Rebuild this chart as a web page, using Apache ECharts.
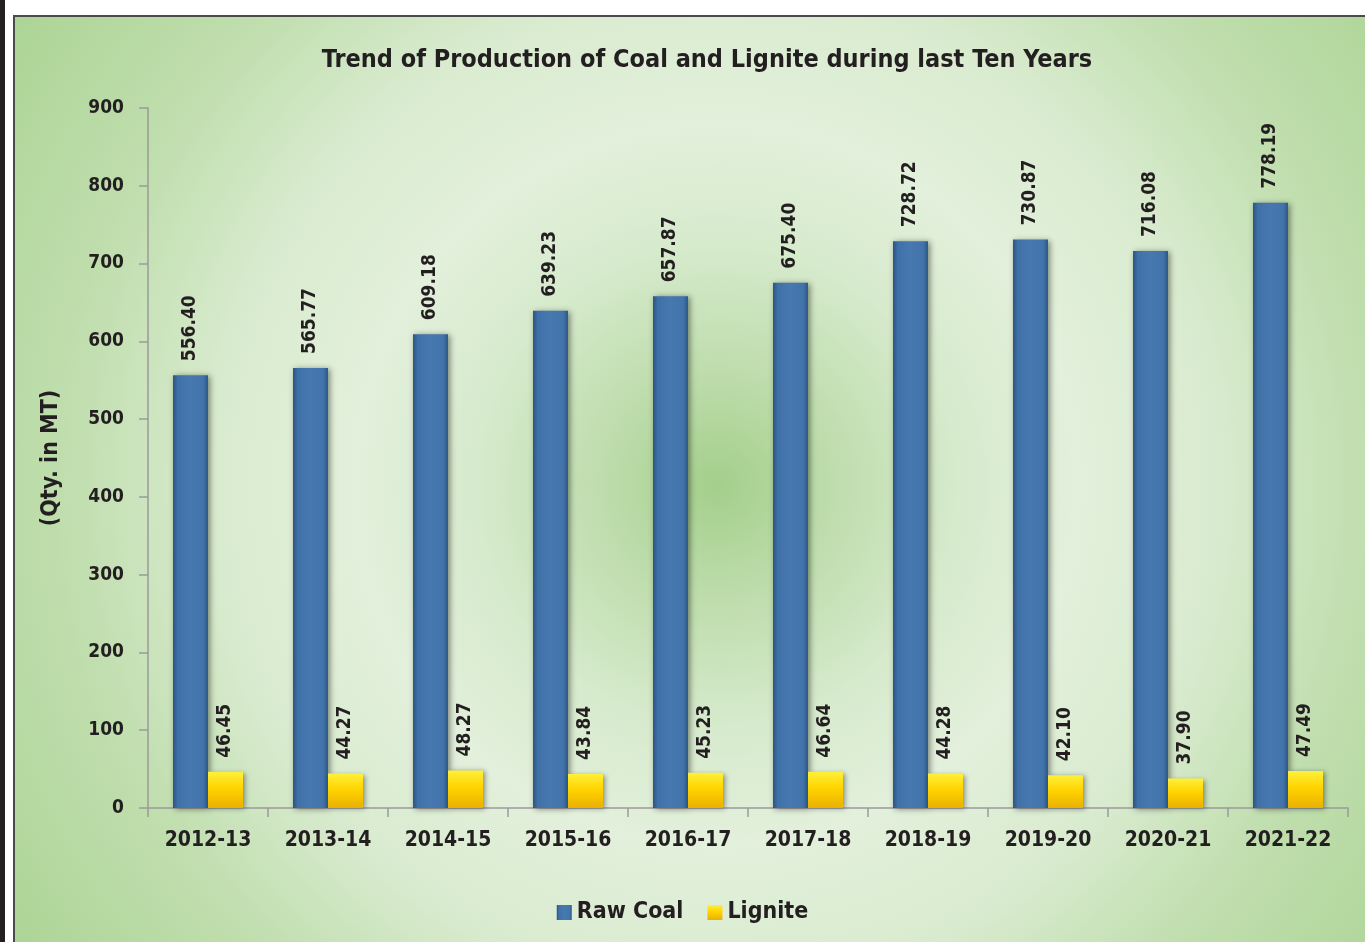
<!DOCTYPE html>
<html>
<head>
<meta charset="utf-8">
<script src="https://cdn.jsdelivr.net/npm/echarts@6/dist/echarts.min.js"></script>
<style>
  html, body { margin: 0; padding: 0; background: #fff; overflow: hidden; }
  #strip { position: absolute; left: 0; top: 0; width: 5px; height: 942px; background: #231f20; }
  #panel {
    position: absolute; left: 13px; top: 15px; width: 1400px; height: 1000px;
    border-top: 2px solid #4a4a4a; border-left: 2px solid #4a4a4a;
    background: radial-gradient(circle at 702px 468px, #a4cf8b 0px, #bddcab 110px, #d6eacc 240px, #e3f0dc 360px, #d9ebcf 500px, #c0deae 650px, #acd495 850px);
  }
  #chart { position: absolute; left: 0; top: 0; width: 1365px; height: 942px; }
</style>
</head>
<body>
<div id="strip"></div>
<div id="panel"></div>
<div id="chart"></div>
<script>
const years = ["2012-13", "2013-14", "2014-15", "2015-16", "2016-17", "2017-18", "2018-19", "2019-20", "2020-21", "2021-22"];
const rawCoal = [556.40, 565.77, 609.18, 639.23, 657.87, 675.40, 728.72, 730.87, 716.08, 778.19];
const lignite = [46.45, 44.27, 48.27, 43.84, 45.23, 46.64, 44.28, 42.10, 37.90, 47.49];

const font = '"DejaVu Sans Condensed", "Liberation Sans Narrow", sans-serif';
const textColor = "#231f20";

const chart = echarts.init(document.getElementById("chart"));

const labelStyle = {
  show: true,
  position: "top",
  rotate: 90,
  align: "left",
  verticalAlign: "middle",
  distance: 14,
  fontFamily: font,
  fontWeight: "bold",
  fontSize: 19,
  color: textColor,
  formatter: (p) => Number(p.value).toFixed(2),
};

chart.setOption({
  backgroundColor: "transparent",
  title: {
    text: "Trend of Production of Coal and Lignite during last Ten Years",
    left: 702,
    textAlign: "center",
    top: 43,
    textStyle: { fontFamily: font, fontWeight: "bold", fontSize: 25, color: textColor },
  },
  legend: {
    bottom: 13,
    left: "center",
    icon: "rect",
    itemWidth: 15,
    itemHeight: 15,
    itemGap: 24,
    itemStyle: { borderWidth: 0 },
    textStyle: { fontFamily: font, fontWeight: "bold", fontSize: 23, color: textColor },
    data: ["Raw Coal", "Lignite"],
  },
  grid: { left: 148, right: 17, top: 108, bottom: 134 },
  xAxis: {
    type: "category",
    data: years,
    axisLine: { lineStyle: { color: "#9a9a9a", width: 1.5 } },
    axisTick: { show: true, length: 9, lineStyle: { color: "#9a9a9a", width: 1.5 } },
    axisLabel: { interval: 0, fontFamily: font, fontWeight: "bold", fontSize: 21, color: textColor, margin: 22 },
  },
  yAxis: {
    type: "value",
    min: 0,
    max: 900,
    interval: 100,
    name: "(Qty. in MT)",
    nameLocation: "middle",
    nameGap: 85,
    nameTextStyle: { fontFamily: font, fontWeight: "bold", fontSize: 23, color: textColor },
    splitLine: { show: false },
    axisLine: { show: true, lineStyle: { color: "#9a9a9a", width: 1.5 } },
    axisTick: { show: true, length: 9, lineStyle: { color: "#9a9a9a", width: 1.5 } },
    axisLabel: { fontFamily: font, fontWeight: "bold", fontSize: 19, color: textColor, margin: 24 },
  },
  series: [
    {
      name: "Raw Coal",
      type: "bar",
      data: rawCoal,
      barWidth: 35,
      barGap: "0%",
      itemStyle: {
        color: new echarts.graphic.LinearGradient(0, 0, 1, 0, [
          { offset: 0, color: "#2a5583" },
          { offset: 0.14, color: "#3f70a8" },
          { offset: 0.5, color: "#4878b0" },
          { offset: 0.86, color: "#4273aa" },
          { offset: 1, color: "#2c5887" },
        ]),
        shadowColor: "rgba(0,0,0,0.45)",
        shadowBlur: 6,
        shadowOffsetX: 2,
        shadowOffsetY: 1,
      },
      label: labelStyle,
    },
    {
      name: "Lignite",
      type: "bar",
      data: lignite,
      barWidth: 35,
      itemStyle: {
        color: new echarts.graphic.LinearGradient(0, 0, 0, 1, [
          { offset: 0, color: "#fff03a" },
          { offset: 0.45, color: "#ffd400" },
          { offset: 1, color: "#eab000" },
        ]),
        shadowColor: "rgba(0,0,0,0.4)",
        shadowBlur: 5,
        shadowOffsetX: 2,
        shadowOffsetY: 1,
      },
      label: labelStyle,
    },
  ],
});
</script>
</body>
</html>
